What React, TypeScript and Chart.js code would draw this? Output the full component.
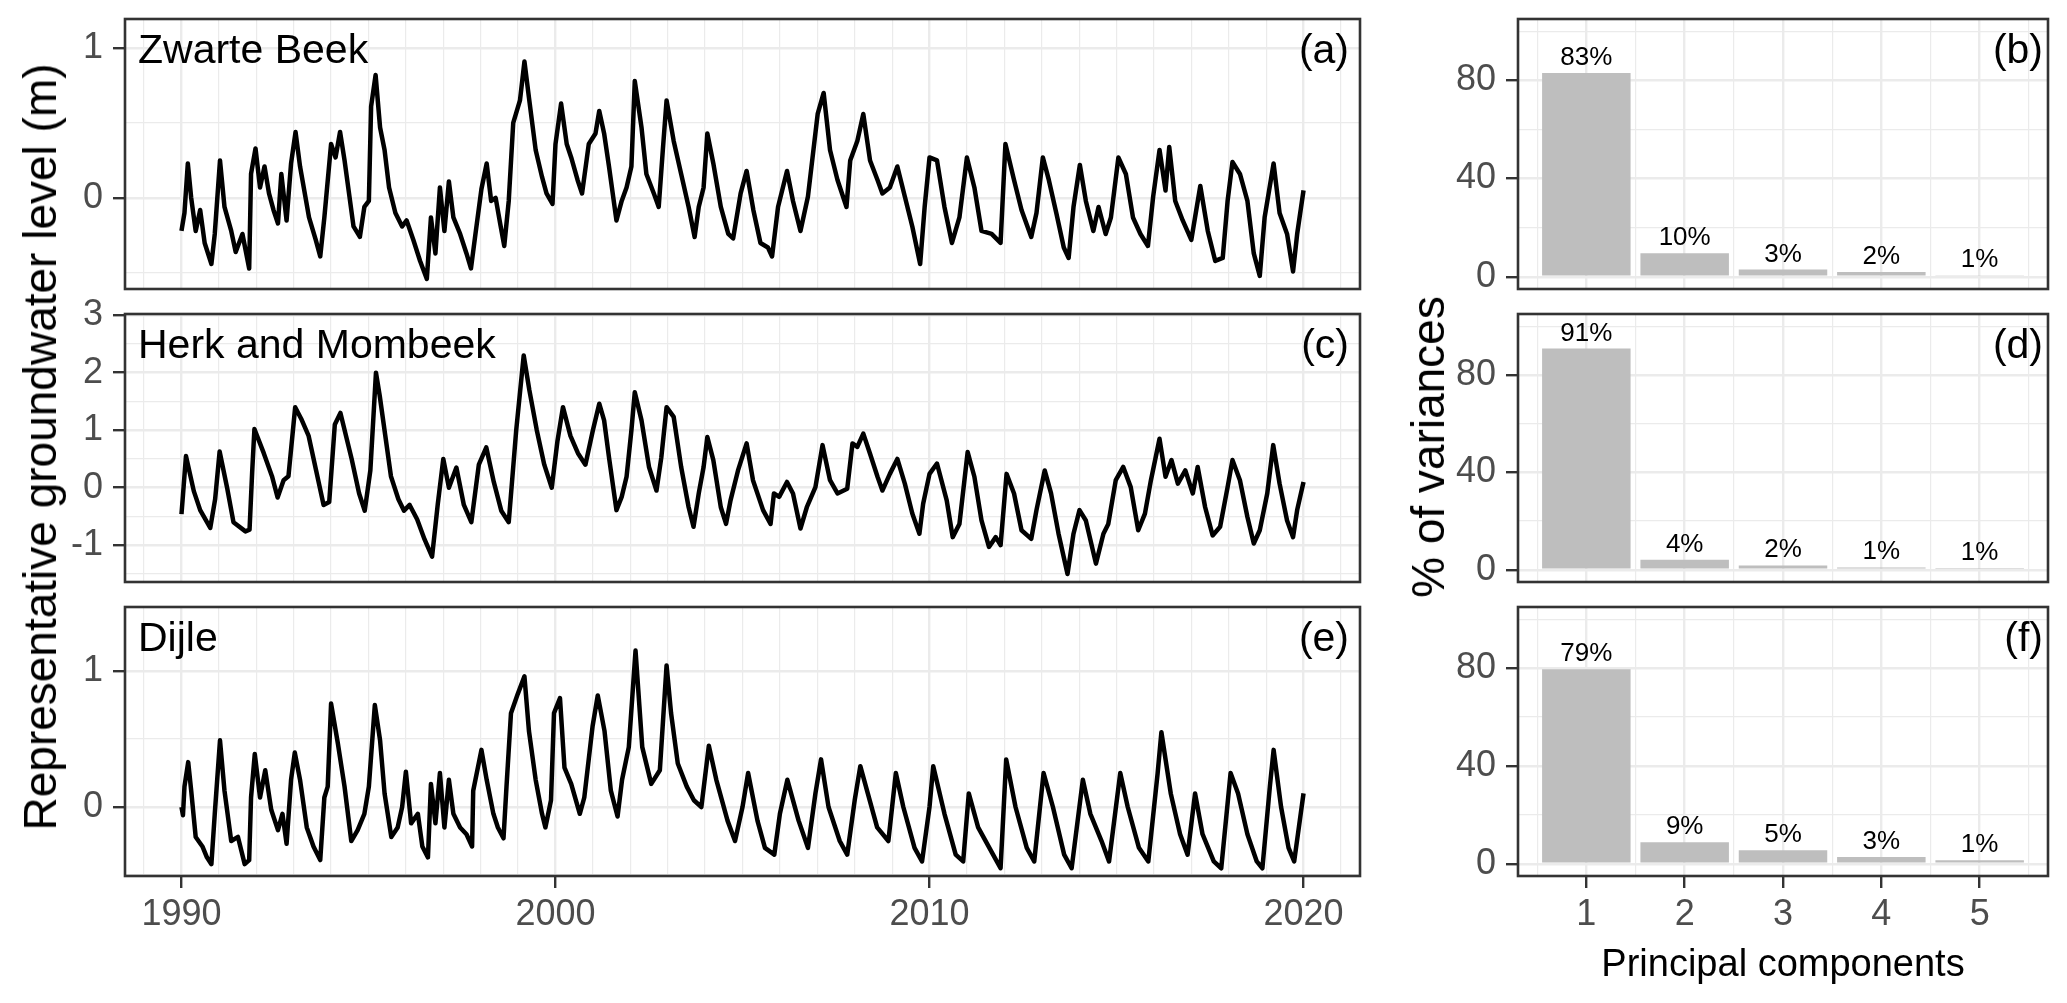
import React, { useEffect, useRef } from 'react';
import { Chart, registerables } from 'chart.js';

Chart.register(...registerables);

const FONT = '"Liberation Sans", Arial, Helvetica, sans-serif';

// ---------------- Data: representative groundwater levels (m) ----------------
const zwarteYears = [
  1990.00, 1990.08, 1990.17, 1990.26, 1990.38, 1990.50, 1990.62, 1990.80, 1990.89, 1991.03,
  1991.15, 1991.33, 1991.45, 1991.63, 1991.81, 1991.86, 1991.98, 1992.10, 1992.22, 1992.34,
  1992.46, 1992.58, 1992.67, 1992.81, 1992.93, 1993.05, 1993.17, 1993.41, 1993.59, 1993.71,
  1993.82, 1994.00, 1994.12, 1994.24, 1994.36, 1994.60, 1994.77, 1994.89, 1995.01, 1995.07,
  1995.19, 1995.31, 1995.43, 1995.55, 1995.72, 1995.90, 1996.02, 1996.20, 1996.38, 1996.56,
  1996.67, 1996.79, 1996.91, 1997.03, 1997.15, 1997.27, 1997.45, 1997.62, 1997.74, 1997.86,
  1998.02, 1998.16, 1998.28, 1998.40, 1998.52, 1998.63, 1998.75, 1998.87, 1999.05, 1999.17,
  1999.29, 1999.47, 1999.64, 1999.76, 1999.92, 2000.00, 2000.15, 2000.30, 2000.42, 2000.59,
  2000.71, 2000.89, 2001.07, 2001.17, 2001.30, 2001.43, 2001.63, 2001.77, 2001.90, 2002.03,
  2002.12, 2002.30, 2002.43, 2002.63, 2002.76, 2002.87, 2002.97, 2003.16, 2003.36, 2003.56,
  2003.72, 2003.83, 2003.96, 2004.06, 2004.22, 2004.42, 2004.62, 2004.75, 2004.95, 2005.11,
  2005.29, 2005.48, 2005.68, 2005.79, 2005.95, 2006.19, 2006.35, 2006.55, 2006.75, 2007.01,
  2007.17, 2007.34, 2007.54, 2007.78, 2007.88, 2008.07, 2008.23, 2008.41, 2008.61, 2008.74,
  2008.94, 2009.14, 2009.34, 2009.54, 2009.75, 2009.87, 2010.00, 2010.20, 2010.40, 2010.60,
  2010.80, 2011.00, 2011.20, 2011.39, 2011.66, 2011.90, 2012.03, 2012.26, 2012.46, 2012.72,
  2012.86, 2013.03, 2013.19, 2013.39, 2013.59, 2013.72, 2013.85, 2014.02, 2014.18, 2014.38,
  2014.52, 2014.71, 2014.85, 2015.05, 2015.25, 2015.44, 2015.64, 2015.84, 2015.98, 2016.15,
  2016.31, 2016.41, 2016.57, 2016.77, 2017.00, 2017.24, 2017.44, 2017.64, 2017.84, 2017.97,
  2018.10, 2018.30, 2018.50, 2018.67, 2018.83, 2018.96, 2019.20, 2019.36, 2019.56, 2019.72,
  2019.83, 2020.00,
];
const zwarteLevels = [
  -0.22, -0.10, 0.23, 0.00, -0.22, -0.08, -0.30, -0.44, -0.24, 0.25,
  -0.06, -0.22, -0.36, -0.24, -0.47, 0.16, 0.33, 0.07, 0.21, 0.03,
  -0.08, -0.17, 0.16, -0.15, 0.23, 0.44, 0.21, -0.13, -0.28, -0.39,
  -0.13, 0.36, 0.27, 0.44, 0.25, -0.19, -0.26, -0.06, -0.02, 0.61,
  0.82, 0.47, 0.32, 0.07, -0.10, -0.19, -0.15, -0.28, -0.42, -0.54,
  -0.13, -0.37, 0.07, -0.22, 0.11, -0.13, -0.24, -0.37, -0.47, -0.24,
  0.06, 0.23, -0.02, 0.00, -0.17, -0.32, -0.02, 0.50, 0.65, 0.91,
  0.67, 0.32, 0.14, 0.03, -0.04, 0.36, 0.63, 0.36, 0.27, 0.12,
  0.03, 0.36, 0.43, 0.58, 0.43, 0.21, -0.15, -0.02, 0.07, 0.21,
  0.78, 0.47, 0.16, 0.03, -0.06, 0.32, 0.65, 0.38, 0.16, -0.06,
  -0.26, -0.06, 0.07, 0.43, 0.23, -0.06, -0.24, -0.27, 0.03, 0.18,
  -0.08, -0.30, -0.33, -0.39, -0.06, 0.18, -0.02, -0.22, 0.01, 0.56,
  0.70, 0.32, 0.12, -0.06, 0.25, 0.38, 0.56, 0.25, 0.12, 0.03,
  0.07, 0.21, 0.01, -0.19, -0.44, -0.06, 0.27, 0.25, -0.06, -0.30,
  -0.13, 0.27, 0.07, -0.22, -0.24, -0.30, 0.36, 0.12, -0.08, -0.26,
  -0.10, 0.27, 0.12, -0.10, -0.33, -0.40, -0.06, 0.22, -0.02, -0.22,
  -0.06, -0.24, -0.13, 0.27, 0.16, -0.13, -0.24, -0.32, 0.01, 0.32,
  0.05, 0.34, -0.02, -0.15, -0.28, 0.08, -0.22, -0.42, -0.40, -0.02,
  0.24, 0.16, -0.02, -0.37, -0.52, -0.13, 0.23, -0.10, -0.24, -0.49,
  -0.24, 0.05,
];

const herkYears = [
  1990.00, 1990.04, 1990.12, 1990.33, 1990.50, 1990.77, 1990.90, 1991.02, 1991.22, 1991.39,
  1991.71, 1991.82, 1991.89, 1991.95, 1992.20, 1992.42, 1992.57, 1992.73, 1992.86, 1993.04,
  1993.20, 1993.40, 1993.60, 1993.80, 1993.95, 1994.10, 1994.25, 1994.40, 1994.55, 1994.75,
  1994.90, 1995.05, 1995.20, 1995.30, 1995.45, 1995.60, 1995.80, 1995.95, 1996.10, 1996.30,
  1996.50, 1996.70, 1996.85, 1997.00, 1997.15, 1997.35, 1997.55, 1997.75, 1997.95, 1998.15,
  1998.35, 1998.55, 1998.75, 1998.95, 1999.15, 1999.30, 1999.50, 1999.70, 1999.90, 2000.05,
  2000.20, 2000.40, 2000.60, 2000.80, 2001.00, 2001.17, 2001.30, 2001.43, 2001.63, 2001.77,
  2001.90, 2002.03, 2002.12, 2002.30, 2002.50, 2002.70, 2002.83, 2002.97, 2003.16, 2003.36,
  2003.56, 2003.69, 2003.83, 2003.96, 2004.06, 2004.22, 2004.42, 2004.56, 2004.68, 2004.88,
  2005.11, 2005.28, 2005.55, 2005.75, 2005.84, 2005.98, 2006.19, 2006.35, 2006.55, 2006.72,
  2006.95, 2007.14, 2007.34, 2007.54, 2007.80, 2007.94, 2008.07, 2008.23, 2008.41, 2008.61,
  2008.74, 2008.94, 2009.14, 2009.34, 2009.54, 2009.73, 2009.83, 2010.00, 2010.20, 2010.46,
  2010.62, 2010.80, 2011.02, 2011.20, 2011.39, 2011.59, 2011.77, 2011.90, 2012.06, 2012.26,
  2012.46, 2012.72, 2012.86, 2013.08, 2013.25, 2013.45, 2013.69, 2013.85, 2014.01, 2014.18,
  2014.45, 2014.65, 2014.78, 2014.98, 2015.18, 2015.38, 2015.58, 2015.76, 2015.92, 2016.15,
  2016.31, 2016.47, 2016.64, 2016.84, 2017.04, 2017.17, 2017.37, 2017.57, 2017.77, 2017.97,
  2018.10, 2018.30, 2018.50, 2018.67, 2018.83, 2019.03, 2019.19, 2019.36, 2019.56, 2019.72,
  2019.83, 2020.00,
];
const herkLevels = [
  -0.46, -0.13, 0.55, -0.06, -0.39, -0.70, -0.20, 0.63, 0.00, -0.60,
  -0.76, -0.73, 0.27, 1.02, 0.60, 0.20, -0.17, 0.13, 0.20, 1.40,
  1.20, 0.90, 0.30, -0.30, -0.25, 1.10, 1.30, 0.90, 0.50, -0.10,
  -0.40, 0.30, 2.00, 1.60, 0.90, 0.20, -0.20, -0.40, -0.30, -0.55,
  -0.90, -1.20, -0.30, 0.50, 0.00, 0.35, -0.30, -0.60, 0.40, 0.70,
  0.10, -0.40, -0.60, 1.00, 2.30, 1.70, 1.00, 0.40, 0.00, 0.80,
  1.40, 0.90, 0.60, 0.40, 1.00, 1.46, 1.17, 0.53, -0.39, -0.16,
  0.19, 1.00, 1.66, 1.17, 0.36, -0.05, 0.53, 1.40, 1.23, 0.36,
  -0.34, -0.68, -0.10, 0.36, 0.88, 0.48, -0.34, -0.63, -0.22, 0.30,
  0.77, 0.13, -0.39, -0.63, -0.10, -0.16, 0.10, -0.10, -0.71, -0.34,
  0.01, 0.74, 0.13, -0.10, -0.02, 0.77, 0.71, 0.94, 0.59, 0.19,
  -0.05, 0.24, 0.50, 0.07, -0.45, -0.80, -0.28, 0.24, 0.42, -0.22,
  -0.86, -0.63, 0.62, 0.19, -0.57, -1.03, -0.86, -1.00, 0.24, -0.10,
  -0.74, -0.89, -0.39, 0.30, -0.10, -0.80, -1.50, -0.80, -0.39, -0.57,
  -1.32, -0.80, -0.63, 0.13, 0.36, 0.01, -0.74, -0.45, 0.13, 0.85,
  0.19, 0.48, 0.07, 0.30, -0.10, 0.36, -0.34, -0.83, -0.68, 0.01,
  0.48, 0.13, -0.51, -0.97, -0.74, -0.10, 0.74, 0.07, -0.57, -0.86,
  -0.39, 0.10,
];

const dijleYears = [
  1990.00, 1990.04, 1990.08, 1990.18, 1990.26, 1990.38, 1990.56, 1990.68, 1990.80, 1990.89,
  1991.03, 1991.15, 1991.33, 1991.51, 1991.69, 1991.81, 1991.86, 1991.96, 1992.10, 1992.24,
  1992.40, 1992.58, 1992.70, 1992.81, 1992.93, 1993.03, 1993.17, 1993.35, 1993.53, 1993.71,
  1993.82, 1993.91, 1994.00, 1994.18, 1994.36, 1994.54, 1994.71, 1994.89, 1995.01, 1995.17,
  1995.31, 1995.43, 1995.61, 1995.78, 1995.90, 1996.00, 1996.14, 1996.32, 1996.44, 1996.59,
  1996.67, 1996.79, 1996.91, 1997.03, 1997.15, 1997.27, 1997.45, 1997.62, 1997.77, 1997.80,
  1998.02, 1998.16, 1998.34, 1998.46, 1998.61, 1998.69, 1998.81, 1998.99, 1999.17, 1999.29,
  1999.47, 1999.64, 1999.73, 1999.88, 1999.96, 2000.12, 2000.24, 2000.42, 2000.65, 2000.77,
  2000.99, 2001.13, 2001.31, 2001.48, 2001.66, 2001.78, 2001.96, 2002.14, 2002.32, 2002.56,
  2002.79, 2002.97, 2003.09, 2003.27, 2003.51, 2003.70, 2003.90, 2004.10, 2004.30, 2004.60,
  2004.80, 2005.00, 2005.15, 2005.40, 2005.60, 2005.85, 2006.00, 2006.20, 2006.50, 2006.75,
  2006.95, 2007.10, 2007.30, 2007.60, 2007.80, 2008.00, 2008.15, 2008.35, 2008.60, 2008.90,
  2009.10, 2009.30, 2009.60, 2009.80, 2010.00, 2010.10, 2010.40, 2010.70, 2010.90, 2011.05,
  2011.30, 2011.70, 2011.90, 2012.05, 2012.30, 2012.60, 2012.80, 2013.05, 2013.30, 2013.60,
  2013.80, 2014.10, 2014.30, 2014.60, 2014.80, 2015.10, 2015.30, 2015.60, 2015.85, 2016.10,
  2016.20, 2016.45, 2016.70, 2016.90, 2017.10, 2017.30, 2017.60, 2017.80, 2018.05, 2018.25,
  2018.50, 2018.75, 2018.90, 2019.10, 2019.20, 2019.40, 2019.60, 2019.75, 2019.85, 2020.00,
];
const dijleLevels = [
  0.00, -0.06, 0.15, 0.33, 0.12, -0.22, -0.29, -0.37, -0.42, -0.05,
  0.49, 0.12, -0.25, -0.22, -0.42, -0.39, 0.07, 0.39, 0.07, 0.27,
  -0.02, -0.17, -0.05, -0.27, 0.20, 0.40, 0.20, -0.15, -0.29, -0.39,
  0.07, 0.15, 0.76, 0.47, 0.15, -0.25, -0.17, -0.05, 0.15, 0.75,
  0.49, 0.10, -0.22, -0.15, 0.00, 0.26, -0.12, -0.05, -0.29, -0.37,
  0.17, -0.12, 0.25, -0.15, 0.20, -0.05, -0.15, -0.20, -0.29, 0.12,
  0.42, 0.20, -0.05, -0.15, -0.23, 0.15, 0.69, 0.83, 0.96, 0.56,
  0.20, -0.05, -0.15, 0.05, 0.69, 0.80, 0.29, 0.17, -0.05, 0.07,
  0.59, 0.82, 0.56, 0.12, -0.07, 0.20, 0.44, 1.15, 0.44, 0.17,
  0.27, 1.04, 0.69, 0.32, 0.15, 0.05, 0.00, 0.45, 0.20, -0.10,
  -0.25, 0.00, 0.25, -0.10, -0.30, -0.35, -0.05, 0.20, -0.10, -0.30,
  0.10, 0.35, 0.00, -0.25, -0.35, 0.05, 0.30, 0.10, -0.15, -0.25,
  0.25, 0.00, -0.30, -0.40, 0.00, 0.30, -0.05, -0.35, -0.40, 0.10,
  -0.15, -0.35, -0.45, 0.35, 0.00, -0.30, -0.40, 0.25, 0.00, -0.35,
  -0.45, 0.20, -0.05, -0.25, -0.40, 0.25, 0.00, -0.30, -0.40, 0.25,
  0.55, 0.10, -0.20, -0.35, 0.10, -0.20, -0.40, -0.45, 0.25, 0.10,
  -0.20, -0.40, -0.45, 0.15, 0.42, 0.00, -0.30, -0.40, -0.20, 0.10,
];

// ---------------- Data: PCA explained variance ----------------
const components = [1, 2, 3, 4, 5];
const zwarteVariance = [83.0, 9.6, 2.9, 1.9, 0.6];
const zwarteVarianceLabels = ['83%', '10%', '3%', '2%', '1%'];
const herkVariance = [90.8, 4.1, 1.8, 1.0, 0.7];
const herkVarianceLabels = ['91%', '4%', '2%', '1%', '1%'];
const dijleVariance = [79.5, 8.8, 5.5, 2.8, 1.4];
const dijleVarianceLabels = ['79%', '9%', '5%', '3%', '1%'];

const yearTicks = [1990, 2000, 2010, 2020];
const stationNames = ['Zwarte Beek', 'Herk and Mombeek', 'Dijle'];
const lineTags = ['(a)', '(c)', '(e)'];
const barTags = ['(b)', '(d)', '(f)'];
const yTitle = 'Representative groundwater level (m)';
const barYTitle = '% of variances';
const barXTitle = 'Principal components';

// ---------------- Layout ----------------
const PANEL_TOPS = [19, 314, 607];
const PANEL_HEIGHTS = [270, 268, 269];
const LEFT_CANVAS_W = 1380;
const LEFT_AXIS_W = 125;
const LEFT_RIGHT_PAD = 20;
const BAR_CANVAS_X = 1380;
const BAR_CANVAS_W = 687;
const BAR_AXIS_W = 138;
const BAR_RIGHT_PAD = 19;
const TOP_PAD = 19;
const PAGE_H = 1003;

const GRID = '#EBEBEB';
const BORDER = '#333333';
const TICK_TEXT = '#4D4D4D';
const TICK_SIZE = 36;

const isWhole = (v: number) => Math.abs(v - Math.round(v)) < 1e-6;

function panelPlugin(name: string | null, tag: string, tagInset: number, barLabels: string[] | null) {
  return {
    id: 'panelDecor',
    afterDatasetsDraw(chart: any) {
      if (!barLabels) return;
      const { ctx } = chart;
      ctx.save();
      const meta = chart.getDatasetMeta(0);
      ctx.fillStyle = '#000';
      ctx.font = `26px ${FONT}`;
      ctx.textAlign = 'center';
      ctx.textBaseline = 'alphabetic';
      meta.data.forEach((el: any, i: number) => {
        ctx.fillText(barLabels[i], el.x, el.y - 8);
      });
      ctx.restore();
    },
    afterDraw(chart: any) {
      const { ctx } = chart;
      const a = chart.chartArea;
      ctx.save();
      ctx.strokeStyle = BORDER;
      ctx.lineWidth = 2.6;
      ctx.strokeRect(a.left, a.top, a.right - a.left, a.bottom - a.top);
      ctx.fillStyle = '#000';
      ctx.font = `41px ${FONT}`;
      ctx.textBaseline = 'alphabetic';
      if (name) {
        ctx.textAlign = 'left';
        ctx.fillText(name, a.left + 13, a.top + 44);
      }
      ctx.textAlign = 'right';
      ctx.fillText(tag, a.right - tagInset, a.top + 44);
      ctx.restore();
    },
  };
}

function lineConfig(idx: number, years: number[], values: number[], yMin: number, yMax: number, canvasH: number): any {
  const showX = idx === 2;
  const h = PANEL_HEIGHTS[idx];
  const xAxisH = showX ? canvasH - TOP_PAD - h : 0;
  const bottomPad = showX ? 0 : canvasH - TOP_PAD - h;
  const isDecade = (v: number) => isWhole(v) && Math.round(v) % 10 === 0;
  return {
    type: 'line',
    data: {
      datasets: [
        {
          data: years.map((x, i) => ({ x, y: values[i] })),
          borderColor: '#000000',
          borderWidth: 4.5,
          pointRadius: 0,
          tension: 0,
          fill: false,
          borderJoinStyle: 'round',
        },
      ],
    },
    options: {
      animation: false,
      responsive: false,
      devicePixelRatio: 1,
      events: [],
      layout: { padding: { top: TOP_PAD, left: 0, right: LEFT_RIGHT_PAD, bottom: bottomPad } },
      plugins: { legend: { display: false }, tooltip: { enabled: false } },
      scales: {
        x: {
          type: 'linear',
          min: 1988.49,
          max: 2021.51,
          afterFit: (s: any) => {
            s.height = xAxisH;
            s.paddingLeft = 0;
            s.paddingRight = 0;
          },
          ticks: {
            display: showX,
            stepSize: 1,
            includeBounds: false,
            autoSkip: false,
            maxRotation: 0,
            padding: 5,
            color: TICK_TEXT,
            font: { family: FONT, size: TICK_SIZE },
            callback: (v: number) => (isDecade(v) && yearTicks.includes(Math.round(v)) ? String(Math.round(v)) : ''),
          },
          grid: {
            color: GRID,
            lineWidth: (c: any) => (c.tick && isDecade(c.tick.value) ? 2.4 : 1.2),
            drawTicks: showX,
            tickLength: 12,
            tickWidth: 2.4,
            tickColor: (c: any) => (c.tick && isDecade(c.tick.value) ? BORDER : 'rgba(0,0,0,0)'),
          },
          border: { display: false },
        },
        y: {
          type: 'linear',
          min: yMin,
          max: yMax,
          afterFit: (s: any) => {
            s.width = LEFT_AXIS_W;
            s.paddingTop = 0;
            s.paddingBottom = 0;
          },
          ticks: {
            stepSize: 0.5,
            includeBounds: false,
            autoSkip: false,
            padding: 10,
            color: TICK_TEXT,
            font: { family: FONT, size: TICK_SIZE },
            callback: (v: number) => (isWhole(v) ? String(Math.round(v)) : ''),
          },
          grid: {
            color: GRID,
            lineWidth: (c: any) => (c.tick && isWhole(c.tick.value) ? 2.4 : 1.2),
            drawTicks: true,
            tickLength: 12,
            tickWidth: 2.4,
            tickColor: (c: any) => (c.tick && isWhole(c.tick.value) ? BORDER : 'rgba(0,0,0,0)'),
          },
          border: { display: false },
        },
      },
    },
    plugins: [panelPlugin(stationNames[idx], lineTags[idx], 11, null)],
  };
}

function barConfig(idx: number, values: number[], labels: string[], canvasH: number): any {
  const showX = idx === 2;
  const h = PANEL_HEIGHTS[idx];
  const xAxisH = showX ? canvasH - TOP_PAD - h : 0;
  const bottomPad = showX ? 0 : canvasH - TOP_PAD - h;
  return {
    type: 'bar',
    data: {
      datasets: [
        {
          data: components.map((x, i) => ({ x, y: values[i] })),
          backgroundColor: '#BEBEBE',
          borderWidth: 0,
          categoryPercentage: 1.0,
          barPercentage: 1.8,
        },
      ],
    },
    options: {
      animation: false,
      responsive: false,
      devicePixelRatio: 1,
      events: [],
      layout: { padding: { top: TOP_PAD, left: 0, right: BAR_RIGHT_PAD, bottom: bottomPad } },
      plugins: { legend: { display: false }, tooltip: { enabled: false } },
      scales: {
        x: {
          type: 'linear',
          min: 0.305,
          max: 5.695,
          offset: false,
          afterFit: (s: any) => {
            s.height = xAxisH;
            s.paddingLeft = 0;
            s.paddingRight = 0;
          },
          ticks: {
            display: showX,
            stepSize: 0.5,
            includeBounds: false,
            autoSkip: false,
            maxRotation: 0,
            padding: 5,
            color: TICK_TEXT,
            font: { family: FONT, size: TICK_SIZE },
            callback: (v: number) => (isWhole(v) ? String(Math.round(v)) : ''),
          },
          grid: {
            offset: false,
            color: GRID,
            lineWidth: (c: any) => (c.tick && isWhole(c.tick.value) ? 2.4 : 1.2),
            drawTicks: showX,
            tickLength: 12,
            tickWidth: 2.4,
            tickColor: (c: any) => (c.tick && isWhole(c.tick.value) ? BORDER : 'rgba(0,0,0,0)'),
          },
          border: { display: false },
        },
        y: {
          type: 'linear',
          min: -5,
          max: 105,
          afterFit: (s: any) => {
            s.width = BAR_AXIS_W;
            s.paddingTop = 0;
            s.paddingBottom = 0;
          },
          ticks: {
            stepSize: 20,
            includeBounds: false,
            autoSkip: false,
            padding: 10,
            color: TICK_TEXT,
            font: { family: FONT, size: TICK_SIZE },
            callback: (v: number) => (Math.round(v) % 40 === 0 ? String(Math.round(v)) : ''),
          },
          grid: {
            color: GRID,
            lineWidth: (c: any) => (c.tick && Math.round(c.tick.value) % 40 === 0 ? 2.4 : 1.2),
            drawTicks: true,
            tickLength: 12,
            tickWidth: 2.4,
            tickColor: (c: any) => (c.tick && Math.round(c.tick.value) % 40 === 0 ? BORDER : 'rgba(0,0,0,0)'),
          },
          border: { display: false },
        },
      },
    },
    plugins: [panelPlugin(null, barTags[idx], 5, labels)],
  };
}

function ChartBox(props: { left: number; top: number; width: number; height: number; make: (h: number) => any }) {
  const ref = useRef<HTMLCanvasElement | null>(null);
  useEffect(() => {
    if (!ref.current) return;
    const chart = new Chart(ref.current, props.make(props.height));
    return () => chart.destroy();
  }, []);
  return (
    <canvas
      ref={ref}
      width={props.width}
      height={props.height}
      style={{ position: 'absolute', left: props.left, top: props.top, width: props.width, height: props.height }}
    />
  );
}

export default function App() {
  const lineSeries = [
    { years: zwarteYears, values: zwarteLevels, min: -0.607, max: 1.193 },
    { years: herkYears, values: herkLevels, min: -1.64, max: 3.02 },
    { years: dijleYears, values: dijleLevels, min: -0.507, max: 1.47 },
  ];
  const barSeries = [
    { values: zwarteVariance, labels: zwarteVarianceLabels },
    { values: herkVariance, labels: herkVarianceLabels },
    { values: dijleVariance, labels: dijleVarianceLabels },
  ];
  const canvasTop = (i: number) => PANEL_TOPS[i] - TOP_PAD;
  const canvasH = (i: number) => (i === 2 ? PAGE_H - canvasTop(i) : 300);

  const rotated: React.CSSProperties = {
    position: 'absolute',
    transform: 'translate(-50%, -50%) rotate(-90deg)',
    whiteSpace: 'nowrap',
    fontSize: 46,
    color: '#000',
    lineHeight: 1,
  };

  return (
    <div
      style={{
        position: 'absolute',
        left: 0,
        top: 0,
        width: 2067,
        height: PAGE_H,
        background: '#ffffff',
        overflow: 'hidden',
        fontFamily: FONT,
      }}
    >
      {lineSeries.map((s, i) => (
        <ChartBox
          key={'l' + i}
          left={0}
          top={canvasTop(i)}
          width={LEFT_CANVAS_W}
          height={canvasH(i)}
          make={(h) => lineConfig(i, s.years, s.values, s.min, s.max, h)}
        />
      ))}
      {barSeries.map((s, i) => (
        <ChartBox
          key={'b' + i}
          left={BAR_CANVAS_X}
          top={canvasTop(i)}
          width={BAR_CANVAS_W}
          height={canvasH(i)}
          make={(h) => barConfig(i, s.values, s.labels, h)}
        />
      ))}
      <div style={{ ...rotated, left: 40, top: 447 }}>{yTitle}</div>
      <div style={{ ...rotated, left: 1428, top: 447 }}>{barYTitle}</div>
      <div
        style={{
          position: 'absolute',
          left: 1783,
          top: 963,
          transform: 'translate(-50%, -50%)',
          whiteSpace: 'nowrap',
          fontSize: 38,
          color: '#000',
          lineHeight: 1,
        }}
      >
        {barXTitle}
      </div>
    </div>
  );
}
